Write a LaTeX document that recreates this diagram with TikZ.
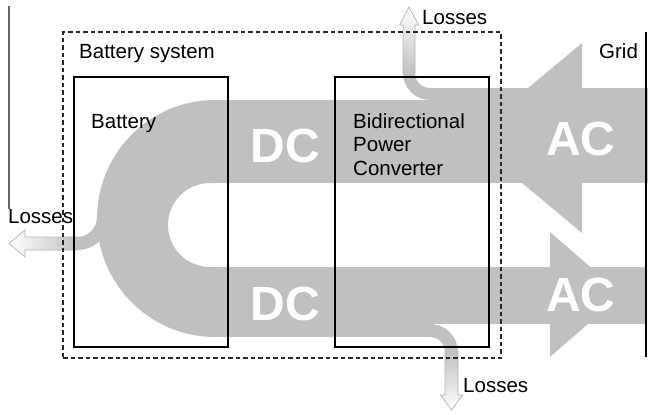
\documentclass[tikz,border=0pt]{standalone}
\usepackage{fontspec}
\setmainfont{Liberation Sans}
\definecolor{flow}{RGB}{192,192,192}
\definecolor{lossedge}{RGB}{180,180,180}
\begin{document}
\begin{tikzpicture}[x=1pt,y=-1pt,
  unitbox/.style={draw=black, line width=1.2pt, minimum width=154, minimum height=270, inner sep=0pt},
  sysbox/.style={draw=black!85, line width=1.2pt, dash pattern=on 4.5pt off 3pt, minimum width=438, minimum height=326, inner sep=0pt},
  txt/.style={font=\fontsize{20.5}{24}\selectfont, inner sep=0pt, anchor=base west},
  bigtxt/.style={font=\fontsize{48}{50}\selectfont\bfseries, text=white, inner sep=0pt, anchor=base},
  lossline/.style={draw=lossedge, line width=0.7pt, line join=miter}
]
\useasboundingbox (0,0) rectangle (648,415);

% ---- power flow (Sankey bands) ----
% grid -> converter (AC, top)
\fill[flow] (430,88) rectangle (648,183);
\fill[flow] (582,43) -- (468,138) -- (582,233) -- cycle;
% converter -> battery (DC, top)
\fill[flow] (214,100) rectangle (431,183);
% turn inside the battery
\fill[flow] (215,100) arc[start angle=270, end angle=90, x radius=118, y radius=118.5]
  -- (215,267) -- (210,267) arc[start angle=90, end angle=270, radius=42] -- (215,183) -- cycle;
% battery -> converter (DC, bottom)
\fill[flow] (214,267) rectangle (431,337);
% converter -> grid (AC, bottom)
\fill[flow] (430,267) rectangle (647,324);
\fill[flow] (550,232) -- (622,294.5) -- (550,357) -- cycle;

% ---- loss branches ----
% converter losses, top
\fill[flow] (430,88) arc[start angle=90, end angle=180, radius=15] -- (403,73)
  arc[start angle=180, end angle=90, radius=27] -- cycle;
\path[top color=white, bottom color=flow]
  (403,74) -- (403,25) -- (399.5,25) -- (409,7) -- (418.5,25) -- (415,25) -- (415,74) -- cycle;
\draw[lossline] (403,74) -- (403,25) -- (399.5,25) -- (409,7) -- (418.5,25) -- (415,25) -- (415,74);

% battery losses, left
\fill[flow] (97,217) arc[start angle=0, end angle=90, radius=20] -- (77,250)
  arc[start angle=90, end angle=0, radius=33] -- cycle;
\path[left color=white, right color=flow]
  (78,237) -- (25,237) -- (25,230) -- (9,243.5) -- (25,257) -- (25,250) -- (78,250) -- cycle;
\draw[lossline] (78,237) -- (25,237) -- (25,230) -- (9,243.5) -- (25,257) -- (25,250) -- (78,250);

% converter losses, bottom
\fill[flow] (430,337) arc[start angle=270, end angle=360, radius=15] -- (458,352)
  arc[start angle=0, end angle=-90, radius=28] -- cycle;
\path[top color=flow, bottom color=white]
  (445,351) -- (445,395) -- (440.5,395) -- (451.5,410) -- (462.5,395) -- (458,395) -- (458,351) -- cycle;
\draw[lossline] (445,351) -- (445,395) -- (440.5,395) -- (451.5,410) -- (462.5,395) -- (458,395) -- (458,351);

% ---- frames ----
\node[sysbox] (system) at (282,195) {};
\node[unitbox] (battery) at (151,212) {};
\node[unitbox] (converter) at (412,212) {};

% grid bus and left margin rule
\coordinate (gridtop) at (646,32);
\coordinate (gridbot) at (646,357);
\draw[line width=1.5pt] (gridtop) -- (gridbot);
\coordinate (ruletop) at (9,6);
\coordinate (rulebot) at (9,209);
\draw[line width=1.1pt, black!60] (ruletop) -- (rulebot);

% ---- labels ----
\node[txt] (systitle) at (79,58) {Battery system};
\node[txt] (battitle) at (91,128) {Battery};
\node[txt] (convA) at (353,128) {Bidirectional};
\node[txt] (convB) at (353,151.5) {Power};
\node[txt] (convC) at (353,175) {Converter};
\node[txt] (gridtitle) at (599,58) {Grid};
\node[txt] (losstop) at (422,24) {Losses};
\node[txt] (lossleft) at (8,223) {Losses};
\node[txt] (lossbot) at (463,392) {Losses};

\node[bigtxt] (dctop) at (285.5,162) {DC};
\node[bigtxt] (dcbot) at (285.5,320) {DC};
\node[bigtxt] (actop) at (581,155) {AC};
\node[bigtxt] (acbot) at (581,311.5) {AC};
\end{tikzpicture}
\end{document}
